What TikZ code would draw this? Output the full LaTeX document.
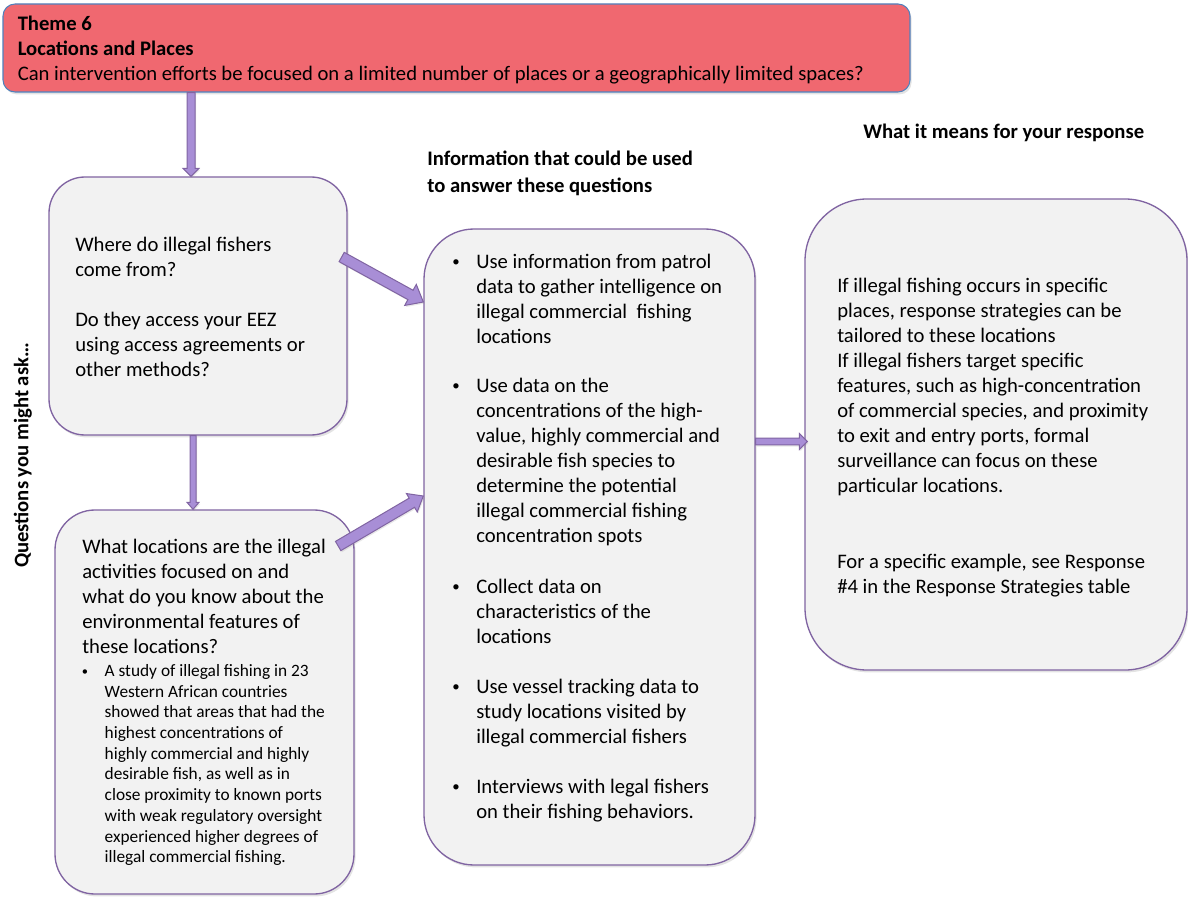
\documentclass[tikz,border=0pt]{standalone}
\usepackage{fontspec}
\usepackage{graphicx}
\setmainfont{Carlito}
\usetikzlibrary{calc,shadows}

\definecolor{hdrfill}{RGB}{240,104,112}
\definecolor{hdrline}{RGB}{79,129,189}
\definecolor{boxfill}{RGB}{242,242,242}
\definecolor{boxline}{RGB}{128,100,162}
\definecolor{arrfill}{RGB}{168,142,214}
\definecolor{arrline}{RGB}{128,100,162}

% bullet mark of a given width, and the matching indent for follow-on lines
\newcommand\bulmark[1]{\makebox[#1][l]{\raisebox{0.07em}{\scalebox{0.72}{\textbullet}}}}
\newcommand\bulind[1]{\hspace*{#1}}

% block arrow from #1 to #2: shaft half width #3, head half width #4, head length #5
\newcommand\blockarrow[5]{%
  \coordinate (ba-h) at ($(#2)!#5!(#1)$);
  \draw[arrowbody]
    ($(#1)!#3!90:(#2)$) -- ($(ba-h)!#3!90:(#2)$) -- ($(ba-h)!#4!90:(#2)$)
    -- (#2)
    -- ($(ba-h)!#4!-90:(#2)$) -- ($(ba-h)!#3!-90:(#2)$) -- ($(#1)!#3!-90:(#2)$)
    -- cycle;
}

\tikzset{
  panel/.style={rectangle, draw=boxline, line width=1pt, fill=boxfill, inner sep=0pt,
    drop shadow={shadow xshift=1.2pt, shadow yshift=-1.8pt, opacity=0.22}},
  body/.style={anchor=north west, inner sep=0pt, align=left,
    font=\fontsize{15.5}{18.75}\selectfont},
  small/.style={anchor=north west, inner sep=0pt, align=left,
    font=\fontsize{13}{15.55}\selectfont},
  headline/.style={inner sep=0pt, font=\fontsize{15.5}{18.75}\selectfont\bfseries},
  arrowbody/.style={fill=arrfill, draw=arrline, line width=0.75pt, line join=miter,
    drop shadow={shadow xshift=0.8pt, shadow yshift=-1.2pt, opacity=0.18}},
}

\begin{document}
\begin{tikzpicture}[x=0.75pt, y=-0.75pt]
\useasboundingbox (0,0) rectangle (1188,898);

% ---- panels ----
\node[panel, fill=hdrfill, draw=hdrline, line width=0.8pt, rounded corners=9pt,
  minimum width=680.25pt, minimum height=66pt] (hdr) at (456.5,48) {};
\node[panel, rounded corners=27pt, minimum width=223.5pt, minimum height=193.5pt] (q1) at (198,306) {};
\node[panel, rounded corners=30pt, minimum width=224.25pt, minimum height=288pt] (q2) at (204.5,702) {};
\node[panel, rounded corners=37.5pt, minimum width=248.25pt, minimum height=477pt] (mid) at (589.5,547) {};
\node[panel, rounded corners=46.5pt, minimum width=286.5pt, minimum height=353.25pt] (resp) at (996,434.5) {};

% ---- header text ----
\node[body] (hdrtxt) at (17.5,12.5) {\strut\textbf{Theme 6}\\\textbf{Locations and Places}\\Can intervention efforts be focused on a limited number of places or a geographically limited spaces?};

% ---- column headings ----
\node[headline, anchor=north west, align=left] (infohead) at (427,147.5)
  {\strut Information that could be used\\[1.5pt]to answer these questions};
\node[headline, anchor=base west] (resphead) at (863,139) {What it means for your response};
\node[headline, rotate=90, anchor=base] (asklabel) at (28.5,455.5) {Questions you might ask…};

% ---- questions ----
\node[body] (q1txt) at (75,233.5) {\strut Where do illegal fishers\\come from?\\[18.75pt]Do they access your EEZ\\using access agreements or\\other methods?};

\node[body] (q2txt) at (82,535.5) {\strut What locations are the illegal\\activities focused on and\\what do you know about the\\environmental features of\\these locations?};

\node[small] (q2note) at (81.5,661.5) {\strut\bulmark{17.2pt}A study of illegal fishing in 23\\
\bulind{17.2pt}Western African countries\\
\bulind{17.2pt}showed that areas that had the\\
\bulind{17.2pt}highest concentrations of\\
\bulind{17.2pt}highly commercial and highly\\
\bulind{17.2pt}desirable fish, as well as in\\
\bulind{17.2pt}close proximity to known ports\\
\bulind{17.2pt}with weak regulatory oversight\\
\bulind{17.2pt}experienced higher degrees of\\
\bulind{17.2pt}illegal commercial fishing.};

% ---- information sources ----
\node[body] (m1) at (452,250.5) {\strut\bulmark{18.0pt}Use information from patrol\\
\bulind{18.0pt}data to gather intelligence on\\
\bulind{18.0pt}illegal commercial\ \ fishing\\
\bulind{18.0pt}locations};
\node[body] (m2) at (452,374.5) {\strut\bulmark{18.0pt}Use data on the\\
\bulind{18.0pt}concentrations of the high-\\
\bulind{18.0pt}value, highly commercial and\\
\bulind{18.0pt}desirable fish species to\\
\bulind{18.0pt}determine the potential\\
\bulind{18.0pt}illegal commercial fishing\\
\bulind{18.0pt}concentration spots};
\node[body] (m3) at (452,575.5) {\strut\bulmark{18.0pt}Collect data on\\
\bulind{18.0pt}characteristics of the\\
\bulind{18.0pt}locations};
\node[body] (m4) at (452,675.5) {\strut\bulmark{18.0pt}Use vessel tracking data to\\
\bulind{18.0pt}study locations visited by\\
\bulind{18.0pt}illegal commercial fishers};
\node[body] (m5) at (452,775.5) {\strut\bulmark{18.0pt}Interviews with legal fishers\\
\bulind{18.0pt}on their fishing behaviors.};

% ---- response ----
\node[body] (r1) at (837,274.5) {\strut If illegal fishing occurs in specific\\places, response strategies can be\\tailored to these locations\\If illegal fishers target specific\\features, such as high-concentration\\of commercial species, and proximity\\to exit and entry ports, formal\\surveillance can focus on these\\particular locations.};
\node[body] (r2) at (837,550.5) {\strut For a specific example, see Response\\\#4 in the Response Strategies table};

% ---- arrows ----
\coordinate (a1e) at ($(q1.north)+(-7,0)$);
\coordinate (a1s) at (hdr.south -| a1e);
\blockarrow{a1s}{a1e}{3pt}{6pt}{6pt}

\coordinate (a2s) at ($(q1.south)+(-5,0)$);
\coordinate (a2e) at (q2.north -| a2s);
\blockarrow{a2s}{a2e}{2.25pt}{4.5pt}{5.25pt}

\coordinate (a3s) at ($(q1.east)+(-6,-49)$);
\coordinate (a3e) at ($(mid.west)+(0,-245)$);
\blockarrow{a3s}{a3e}{4pt}{9pt}{11pt}

\coordinate (a4s) at ($(q2.east)+(-16.5,-156)$);
\coordinate (a4e) at ($(mid.west)+(0,-51)$);
\blockarrow{a4s}{a4e}{4pt}{8pt}{10pt}

\coordinate (a5s) at ($(mid.east)+(0,-105.5)$);
\coordinate (a5e) at ($(resp.west |- a5s)+(3,0)$);
\blockarrow{a5s}{a5e}{2.6pt}{6pt}{6pt}

\end{tikzpicture}
\end{document}
